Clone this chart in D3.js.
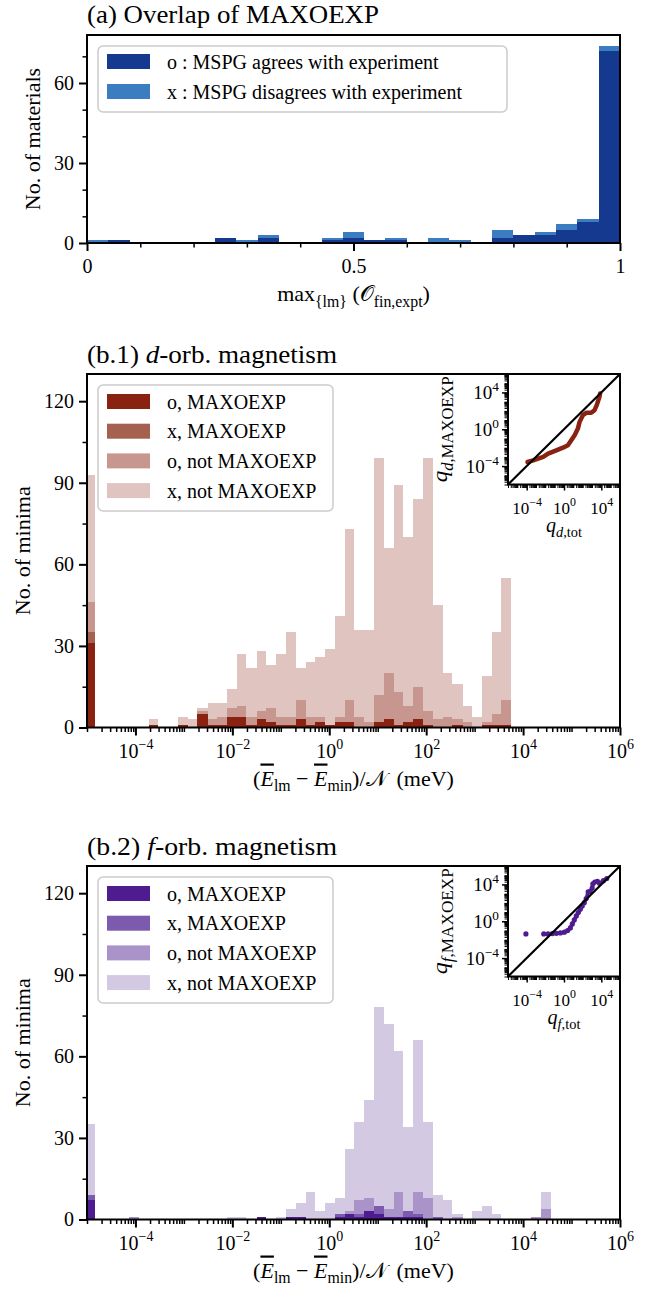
<!DOCTYPE html>
<html>
<head>
<meta charset="utf-8">
<script src="https://cdn.jsdelivr.net/npm/d3@7"></script>
<style>
  body { margin: 0; background: #fff; }
  text { font-family: "Liberation Serif", "DejaVu Serif", serif; fill: #000; }
</style>
</head>
<body>
<div id="chart-area"></div>
<script>
// ---------- data ----------
// (a) overlap histogram, 25 bins on [0, 1]
const overlapEdges = [0, 0.04, 0.08, 0.12, 0.16, 0.2, 0.24, 0.28, 0.32, 0.36, 0.4, 0.44, 0.48,
  0.52, 0.56, 0.6, 0.64, 0.68, 0.72, 0.76, 0.8, 0.84, 0.88, 0.92, 0.96, 1];
const overlapAgree = [0, 1, 0, 0, 0, 0, 2, 0, 2, 0, 0, 1, 2, 1, 1, 0, 0, 0, 0, 2, 3, 3, 5, 8, 72];
const overlapDisagree = [1, 0, 0, 0, 0, 0, 0, 1, 1, 0, 0, 1, 2, 0, 1, 0, 2, 1, 0, 3, 0, 1, 2, 1, 2];
const overlapLabels = ["o : MSPG agrees with experiment", "x : MSPG disagrees with experiment"];

// (b) energy histograms: first bin holds the E_lm = E_min minima, then log10 bin edges
const zeroBinLog = [-5, -4.835];
const binEdgesLog = [-4.94, -4.74, -4.54, -4.34, -4.13, -3.93, -3.73, -3.53, -3.32, -3.12,
  -2.92, -2.72, -2.51, -2.31, -2.11, -1.91, -1.71, -1.50, -1.30, -1.10,
  -0.90, -0.69, -0.49, -0.29, -0.09, 0.12, 0.32, 0.52, 0.72, 0.93,
  1.13, 1.33, 1.53, 1.73, 1.94, 2.14, 2.34, 2.54, 2.75, 2.95,
  3.15, 3.35, 3.55, 3.76, 3.96, 4.16, 4.36, 4.57];
const orbLabels = ["o, MAXOEXP", "x, MAXOEXP", "o, not MAXOEXP", "x, not MAXOEXP"];

// d-orbital counts: zero bin, then bins 0..46
const dOMax = [31,
  0, 0, 0, 0, 0, 0, 1, 0, 0, 1,
  0, 5, 1, 1, 4, 4, 1, 3, 2, 1,
  1, 3, 1, 2, 1, 2, 2, 0, 0, 2,
  3, 1, 2, 3, 1, 0, 0, 1, 0, 0,
  1, 1, 1, 0, 0, 0, 0];
const dXMax = [4,
  0, 0, 0, 0, 0, 0, 0, 0, 0, 0,
  0, 0, 0, 0, 0, 0, 0, 0, 0, 0,
  0, 0, 0, 0, 0, 0, 0, 0, 0, 0,
  0, 0, 0, 0, 0, 0, 0, 0, 0, 0,
  0, 0, 0, 0, 0, 0, 0];
const dONot = [11,
  0, 0, 0, 0, 0, 0, 0, 0, 0, 0,
  0, 1, 2, 3, 3, 4, 3, 3, 5, 3,
  3, 7, 3, 2, 0, 2, 8, 4, 2, 10,
  17, 12, 6, 12, 5, 3, 4, 2, 2, 0,
  1, 4, 9, 0, 0, 0, 0];
const dXNot = [47,
  0, 0, 0, 0, 0, 0, 2, 0, 0, 3,
  3, 1, 6, 5, 7, 19, 18, 22, 16, 23,
  31, 12, 20, 22, 28, 37, 63, 32, 34, 87,
  46, 76, 62, 69, 93, 42, 16, 13, 6, 4,
  17, 30, 45, 0, 0, 0, 0];

// f-orbital counts
const fOMax = [7,
  0, 0, 0, 0, 0, 0, 0, 0, 0, 0,
  0, 0, 0, 0, 0, 0, 0, 1, 0, 0,
  1, 1, 0, 0, 0, 1, 2, 1, 3, 2,
  1, 1, 1, 1, 0, 0, 0, 0, 0, 0,
  0, 0, 0, 0, 0, 0, 0];
const fXMax = [2,
  0, 0, 0, 0, 0, 0, 0, 0, 0, 0,
  0, 0, 0, 0, 0, 0, 0, 0, 0, 0,
  0, 0, 0, 0, 0, 1, 0, 1, 0, 3,
  0, 0, 2, 1, 0, 1, 0, 0, 0, 0,
  0, 0, 0, 0, 0, 0, 0];
const fONot = [0,
  0, 0, 0, 0, 1, 0, 0, 0, 0, 0,
  0, 0, 0, 0, 0, 0, 0, 0, 0, 0,
  0, 0, 0, 0, 0, 0, 1, 5, 5, 0,
  3, 9, 0, 8, 8, 0, 0, 1, 0, 0,
  0, 0, 0, 0, 0, 1, 4];
const fXNot = [26,
  0, 0, 0, 0, 0, 0, 0, 0, 0, 0,
  0, 0, 0, 0, 1, 1, 0, 0, 0, 1,
  3, 5, 10, 3, 6, 6, 23, 29, 36, 73,
  68, 52, 31, 56, 28, 8, 7, 1, 0, 3,
  5, 2, 0, 0, 0, 0, 6];

// insets: log10 q_tot vs log10 q_MAXOEXP
const dInsetTot = [-3.91, -3.3, -2.23, -1.7, -0.82, -0.11, 0.42, 0.78, 1.14, 1.49, 1.67, 2.02, 2.38, 2.91, 3.27, 3.51, 3.8, 3.87];
const dInsetMax = [-3.56, -3.38, -3.01, -2.65, -2.29, -2.0, -1.74, -1.2, -0.65, 0.07, 0.8, 1.53, 1.78, 1.78, 2.07, 2.62, 3.53, 3.89];
const fInsetTot = [-4.08, -2.17, -1.71, -1.24, -0.82, -0.39, 0.04, 0.39, 0.68, 0.89, 1.1, 1.32, 1.53, 1.74, 1.95, 2.17, 2.38, 2.59, 2.8, 3.02, 3.09, 3.3, 3.58, 3.8, 4.22, 4.58];
const fInsetMax = [-1.38, -1.38, -1.38, -1.34, -1.31, -1.27, -1.19, -1.01, -0.72, -0.29, 0.14, 0.58, 0.94, 1.3, 1.66, 2.02, 2.46, 3.18, 3.25, 3.61, 4.05, 4.26, 4.34, 4.12, 4.41, 4.63];

// ---------- layout ----------
const chartSize = { width: 662, height: 1290 };
const frame = { left: 87, right: 620 };
const blues = ["#14398e", "#3c7cc1"];
const reds = ["#8a2212", "#a6604f", "#c7978f", "#e0c4bf"];
const purples = ["#4f1c8f", "#7c5aae", "#aa93c9", "#d3c9e3"];
const orbKeys = ["oMax", "xMax", "oNot", "xNot"];
const fontFamily = '"Liberation Serif", "DejaVu Serif", serif';

const svg = d3.select("#chart-area").append("svg")
  .attr("width", chartSize.width)
  .attr("height", chartSize.height);

const styleAxis = function(g, lineWidth, fontSize) {
  g.attr("font-family", fontFamily).attr("font-size", fontSize);
  g.select(".domain").remove();
  g.selectAll(".tick line").attr("stroke", "#000").attr("stroke-width", lineWidth);
  g.selectAll(".tick text").attr("fill", "#000");
};

const powerLabel = function(sel, fontSize) {
  sel.each(function(d) {
    const n = Math.round(Math.log10(d));
    const t = d3.select(this).text(null);
    t.append("tspan").text("10");
    t.append("tspan")
      .attr("font-size", fontSize * 0.7)
      .attr("dy", -fontSize * 0.42)
      .text(n < 0 ? "\u2212" + (-n) : String(n));
  });
};

// minor log ticks (k * 10^n) between two decades, skipping the majors
const logMinors = function(lo, hi, majors) {
  const out = [];
  for (let n = lo; n < hi; n++) {
    for (let k = 1; k < 10; k++) out.push(k * Math.pow(10, n));
  }
  out.push(Math.pow(10, hi));
  return out.filter(v => !majors.some(m => Math.abs(m - v) / m < 1e-9));
};

// text made of roman / italic / subscript pieces
const richText = function(sel, parts, size) {
  let shift = 0;
  parts.forEach(part => {
    const target = part.sub ? size * 0.25 : 0;
    const t = sel.append("tspan").text(part.t).attr("dy", target - shift);
    shift = target;
    if (part.sub) t.attr("font-size", size * 0.72);
    if (part.it) t.attr("font-style", "italic");
    if (part.over) t.style("text-decoration", "overline");
  });
};

const drawLegend = function(g, lb, labels, colors) {
  g.append("rect")
    .attr("x", lb.x).attr("y", lb.y)
    .attr("width", lb.w).attr("height", lb.h)
    .attr("rx", 5)
    .attr("fill", "#fff").attr("fill-opacity", 0.8)
    .attr("stroke", "#cccccc").attr("stroke-width", 1.5);
  labels.forEach((lab, i) => {
    const cy = lb.first + i * lb.step;
    g.append("rect")
      .attr("x", lb.x + 9).attr("y", cy - 7.5)
      .attr("width", 43).attr("height", 15)
      .attr("fill", colors[i]);
    g.append("text")
      .attr("x", lb.x + 69).attr("y", cy + 7)
      .attr("font-size", 20)
      .text(lab);
  });
};

const drawFrame = function(g, box) {
  g.append("rect")
    .attr("x", box.left).attr("y", box.top)
    .attr("width", box.right - box.left).attr("height", box.bottom - box.top)
    .attr("fill", "none").attr("stroke", "#000").attr("stroke-width", 2);
};

// ---------- (a) ----------
const drawOverlap = function() {
  const box = { left: frame.left, right: frame.right, top: 35, bottom: 243 };
  const g = svg.append("g").attr("class", "overlap");

  const x = d3.scaleLinear().domain([0, 1]).range([box.left, box.right]);
  const y = d3.scaleLinear().domain([0, 78]).range([box.bottom, box.top]);

  const rows = overlapAgree.map((v, i) => ({
    lo: overlapEdges[i], hi: overlapEdges[i + 1], agree: v, disagree: overlapDisagree[i]
  }));
  const series = d3.stack().keys(["agree", "disagree"])(rows);

  g.selectAll("g.layer").data(series).join("g")
    .attr("class", "layer")
    .attr("fill", (d, i) => blues[i])
    .selectAll("rect").data(d => d.filter(p => p[1] > p[0])).join("rect")
    .attr("shape-rendering", "crispEdges")
    .attr("x", p => x(p.data.lo))
    .attr("width", p => x(p.data.hi) - x(p.data.lo))
    .attr("y", p => y(p[1]))
    .attr("height", p => y(p[0]) - y(p[1]));

  const xMajor = g.append("g").attr("transform", `translate(0,${box.bottom})`)
    .call(d3.axisBottom(x).tickValues([0, 0.5, 1]).tickSize(8).tickPadding(7.8).tickFormat(d3.format("")));
  styleAxis(xMajor, 2, 20);
  const xMinor = g.append("g").attr("transform", `translate(0,${box.bottom})`)
    .call(d3.axisBottom(x).tickValues([0.1, 0.2, 0.3, 0.4, 0.6, 0.7, 0.8, 0.9]).tickSize(4.5).tickFormat(""));
  styleAxis(xMinor, 1.5, 20);

  const yMajor = g.append("g").attr("transform", `translate(${box.left},0)`)
    .call(d3.axisLeft(y).tickValues([0, 30, 60]).tickSize(8).tickPadding(5));
  styleAxis(yMajor, 2, 20);
  const yMinor = g.append("g").attr("transform", `translate(${box.left},0)`)
    .call(d3.axisLeft(y).tickValues([10, 20, 40, 50, 70]).tickSize(4.5).tickFormat(""));
  styleAxis(yMinor, 1.5, 20);

  drawFrame(g, box);

  g.append("text").attr("x", box.left).attr("y", 23).attr("font-size", 25)
    .attr("textLength", 292).attr("lengthAdjust", "spacingAndGlyphs")
    .text("(a) Overlap of MAXOEXP");

  g.append("text")
    .attr("transform", `translate(40,${(box.top + box.bottom) / 2}) rotate(-90)`)
    .attr("text-anchor", "middle").attr("font-size", 22)
    .text("No. of materials");

  const xl = g.append("text").attr("x", (box.left + box.right) / 2).attr("y", 301)
    .attr("text-anchor", "middle").attr("font-size", 22);
  richText(xl, [
    { t: "max" }, { t: "{lm}", sub: true }, { t: " (" },
    { t: "\u{1D4AA}" }, { t: "fin,expt", sub: true }, { t: ")" }
  ], 22);

  drawLegend(g, { x: 98, y: 46, w: 409, h: 66, first: 61.5, step: 30 }, overlapLabels, blues);
};

// ---------- (b.1) / (b.2) ----------
const drawOrbPanel = function(p) {
  const box = { left: frame.left, right: frame.right, top: p.top, bottom: p.top + 353.5 };
  const g = svg.append("g").attr("class", "orb");

  const x = d3.scaleLog().domain([1e-5, 1e6]).range([box.left, box.right]);
  const y = d3.scaleLinear().domain([0, 130]).range([box.bottom, box.top]);

  const edges = [zeroBinLog].concat(binEdgesLog.slice(0, -1).map((e, i) => [e, binEdgesLog[i + 1]]));
  const rows = edges.map((e, i) => ({
    lo: Math.pow(10, e[0]), hi: Math.pow(10, e[1]),
    oMax: p.counts[0][i], xMax: p.counts[1][i], oNot: p.counts[2][i], xNot: p.counts[3][i]
  }));
  const series = d3.stack().keys(orbKeys)(rows);

  g.selectAll("g.layer").data(series).join("g")
    .attr("class", "layer")
    .attr("fill", (d, i) => p.colors[i])
    .selectAll("rect").data(d => d.filter(q => q[1] > q[0])).join("rect")
    .attr("shape-rendering", "crispEdges")
    .attr("x", q => x(q.data.lo))
    .attr("width", q => x(q.data.hi) - x(q.data.lo))
    .attr("y", q => y(q[1]))
    .attr("height", q => y(q[0]) - y(q[1]));

  const majors = [1e-4, 1e-2, 1, 1e2, 1e4, 1e6];
  const xMajor = g.append("g").attr("transform", `translate(0,${box.bottom})`)
    .call(d3.axisBottom(x).tickValues(majors).tickSize(8).tickPadding(7.8));
  styleAxis(xMajor, 2, 20);
  powerLabel(xMajor.selectAll(".tick text"), 20);
  const xMinor = g.append("g").attr("transform", `translate(0,${box.bottom})`)
    .call(d3.axisBottom(x).tickValues(logMinors(-5, 6, majors)).tickSize(4.5).tickFormat(""));
  styleAxis(xMinor, 1.5, 20);

  const yMajor = g.append("g").attr("transform", `translate(${box.left},0)`)
    .call(d3.axisLeft(y).tickValues([0, 30, 60, 90, 120]).tickSize(8).tickPadding(5));
  styleAxis(yMajor, 2, 20);
  const yMinor = g.append("g").attr("transform", `translate(${box.left},0)`)
    .call(d3.axisLeft(y).tickValues([15, 45, 75, 105]).tickSize(4.5).tickFormat(""));
  styleAxis(yMinor, 1.5, 20);

  drawFrame(g, box);

  const title = g.append("text").attr("x", box.left).attr("y", box.top - 11).attr("font-size", 25)
    .attr("textLength", 250).attr("lengthAdjust", "spacingAndGlyphs");
  richText(title, [{ t: p.tag + " " }, { t: p.orb, it: true }, { t: "-orb. magnetism" }], 25);

  g.append("text")
    .attr("transform", `translate(30,${(box.top + box.bottom) / 2}) rotate(-90)`)
    .attr("text-anchor", "middle").attr("font-size", 22)
    .text("No. of minima");

  const xl = g.append("text").attr("x", (box.left + box.right) / 2).attr("y", box.bottom + 58)
    .attr("text-anchor", "middle").attr("font-size", 22);
  richText(xl, [
    { t: "(" }, { t: "E", it: true, over: true }, { t: "lm", sub: true }, { t: " \u2212 " },
    { t: "E", it: true, over: true }, { t: "min", sub: true }, { t: ")/\u{1D4A9}\u2009 (meV)" }
  ], 22);

  drawLegend(g, { x: 98, y: box.top + 11, w: 235, h: 126, first: box.top + 27.5, step: 29.7 },
    orbLabels, p.colors);

  // inset
  const ib = { left: 508, right: 620, top: box.top, bottom: box.top + 110.5 };
  const ig = g.append("g").attr("class", "inset");
  const ix = d3.scaleLog().domain([1e-6, 1e6]).range([ib.left, ib.right]);
  const iy = d3.scaleLog().domain([1e-6, 1e6]).range([ib.bottom, ib.top]);

  ig.append("rect").attr("x", ib.left).attr("y", ib.top)
    .attr("width", ib.right - ib.left).attr("height", ib.bottom - ib.top).attr("fill", "#fff");

  const pts = p.insetTot.map((v, i) => [Math.pow(10, v), Math.pow(10, p.insetMax[i])]);
  const curve = d3.line().x(d => ix(d[0])).y(d => iy(d[1]));
  ig.append("path")
    .attr("d", curve(p.insetLine ? pts : pts.slice(1)))
    .attr("fill", "none").attr("stroke", p.colors[0])
    .attr("stroke-width", p.insetLine ? 4.5 : 3.5)
    .attr("stroke-linejoin", "round").attr("stroke-linecap", "round");
  if (!p.insetLine) {
    ig.selectAll("circle").data(pts).join("circle")
      .attr("cx", d => ix(d[0])).attr("cy", d => iy(d[1])).attr("r", 2.6)
      .attr("fill", p.colors[0]);
  }

  ig.append("path")
    .attr("d", d3.line().x(d => ix(d)).y(d => iy(d))([1e-6, 1e6]))
    .attr("stroke", "#000").attr("stroke-width", 2.2);

  const iMaj = [1e-4, 1, 1e4];
  const ixMajor = ig.append("g").attr("transform", `translate(0,${ib.bottom})`)
    .call(d3.axisBottom(ix).tickValues(iMaj).tickSize(6).tickPadding(11));
  styleAxis(ixMajor, 1.5, 17);
  powerLabel(ixMajor.selectAll(".tick text"), 17);
  const ixMinor = ig.append("g").attr("transform", `translate(0,${ib.bottom})`)
    .call(d3.axisBottom(ix).tickValues(logMinors(-6, 6, iMaj)).tickSize(3.5).tickFormat(""));
  styleAxis(ixMinor, 1, 17);

  const iyMajor = ig.append("g").attr("transform", `translate(${ib.left},0)`)
    .call(d3.axisLeft(iy).tickValues(iMaj).tickSize(6).tickPadding(3));
  styleAxis(iyMajor, 1.5, 19);
  powerLabel(iyMajor.selectAll(".tick text"), 19);
  const iyMinor = ig.append("g").attr("transform", `translate(${ib.left},0)`)
    .call(d3.axisLeft(iy).tickValues(logMinors(-6, 6, iMaj)).tickSize(3.5).tickFormat(""));
  styleAxis(iyMinor, 1, 19);

  drawFrame(ig, ib);

  const ixl = ig.append("text").attr("x", (ib.left + ib.right) / 2).attr("y", ib.bottom + 47)
    .attr("text-anchor", "middle").attr("font-size", 20);
  richText(ixl, [{ t: "q", it: true }, { t: p.orb, it: true, sub: true }, { t: ",tot", sub: true }], 20);

  const iyl = ig.append("text")
    .attr("transform", `translate(447,${(ib.top + ib.bottom) / 2}) rotate(-90)`)
    .attr("text-anchor", "middle").attr("font-size", 22)
    .attr("textLength", 106).attr("lengthAdjust", "spacingAndGlyphs");
  richText(iyl, [{ t: "q", it: true }, { t: p.orb, it: true, sub: true }, { t: ",MAXOEXP", sub: true }], 22);
};

const main = function() {
  drawOverlap();
  drawOrbPanel({
    top: 374, tag: "(b.1)", orb: "d", colors: reds,
    counts: [dOMax, dXMax, dONot, dXNot],
    insetTot: dInsetTot, insetMax: dInsetMax, insetLine: true
  });
  drawOrbPanel({
    top: 866, tag: "(b.2)", orb: "f", colors: purples,
    counts: [fOMax, fXMax, fONot, fXNot],
    insetTot: fInsetTot, insetMax: fInsetMax, insetLine: false
  });
};

main();
</script>
</body>
</html>
